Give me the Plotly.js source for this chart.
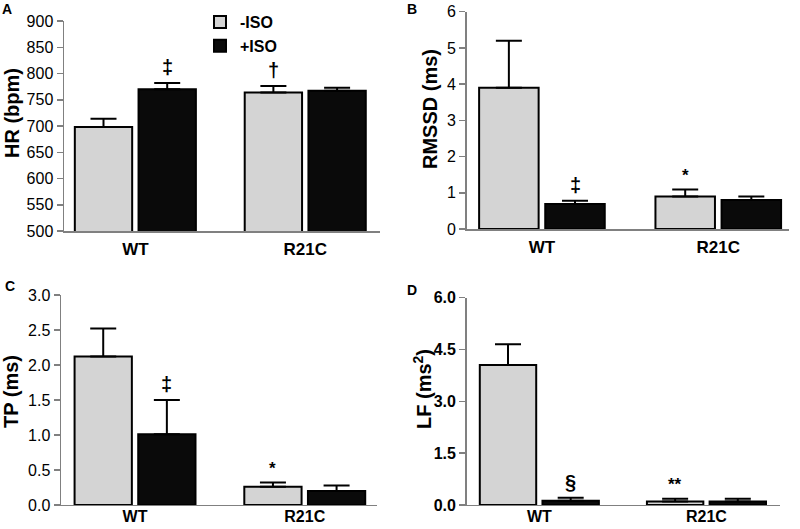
<!DOCTYPE html>
<html>
<head>
<meta charset="utf-8">
<script src="https://cdn.plot.ly/plotly-3.0.1.min.js"></script>
<style>html,body{margin:0;padding:0;background:#fff;}#chart{width:800px;height:529px;}</style>
</head>
<body>
<div id="chart"></div>
<script>
// ---- data ----
var groups = ['WT', 'R21C'];
var seriesNames = ['-ISO', '+ISO'];

var hrMinus = [698, 764];
var hrMinusErr = [16, 12];
var hrPlus = [770, 767];
var hrPlusErr = [12, 6];
var hrSigMinus = ['', '†'];
var hrSigPlus = ['‡', ''];

var rmssdMinus = [3.9, 0.9];
var rmssdMinusErr = [1.3, 0.19];
var rmssdPlus = [0.69, 0.8];
var rmssdPlusErr = [0.09, 0.1];
var rmssdSigMinus = ['', '*'];
var rmssdSigPlus = ['‡', ''];

var tpMinus = [2.12, 0.26];
var tpMinusErr = [0.4, 0.06];
var tpPlus = [1.01, 0.2];
var tpPlusErr = [0.49, 0.08];
var tpSigMinus = ['', '*'];
var tpSigPlus = ['‡', ''];

var lfMinus = [4.05, 0.1];
var lfMinusErr = [0.6, 0.08];
var lfPlus = [0.12, 0.1];
var lfPlusErr = [0.09, 0.08];
var lfSigMinus = ['', '**'];
var lfSigPlus = ['§', ''];

var zeroErr = [0, 0];

// ---- styles ----
var FONT = 'Liberation Sans, Arial, Helvetica, sans-serif';
var GRAY = '#d4d4d4';
var BLACK = '#0a0a0a';
var AXIS = '#808080';

var panels = [
  {id: '', minus: hrMinus, minusErr: hrMinusErr, plus: hrPlus, plusErr: hrPlusErr, sigM: hrSigMinus, sigP: hrSigPlus},
  {id: '2', minus: rmssdMinus, minusErr: rmssdMinusErr, plus: rmssdPlus, plusErr: rmssdPlusErr, sigM: rmssdSigMinus, sigP: rmssdSigPlus},
  {id: '3', minus: tpMinus, minusErr: tpMinusErr, plus: tpPlus, plusErr: tpPlusErr, sigM: tpSigMinus, sigP: tpSigPlus},
  {id: '4', minus: lfMinus, minusErr: lfMinusErr, plus: lfPlus, plusErr: lfPlusErr, sigM: lfSigMinus, sigP: lfSigPlus}
];

var traces = [];
var annotations = [];
function sigFont(t) {
  return {family: FONT, size: t.indexOf('*') >= 0 ? 17 : 20, color: '#000', weight: 'bold'};
}
panels.forEach(function (p, k) {
  var xa = 'x' + p.id, ya = 'y' + p.id;
  traces.push({
    type: 'bar', name: seriesNames[0], x: groups, y: p.minus, xaxis: xa, yaxis: ya,
    legendgroup: 'm', showlegend: k === 0,
    marker: {color: GRAY, line: {color: '#000', width: 2}},
    error_y: {type: 'data', symmetric: false, array: p.minusErr, arrayminus: zeroErr, color: '#000', thickness: 2, width: 13},
    hoverinfo: 'y'
  });
  traces.push({
    type: 'bar', name: seriesNames[1], x: groups, y: p.plus, xaxis: xa, yaxis: ya,
    legendgroup: 'p', showlegend: k === 0,
    marker: {color: BLACK, line: {color: '#000', width: 2}},
    error_y: {type: 'data', symmetric: false, array: p.plusErr, arrayminus: zeroErr, color: '#000', thickness: 2, width: 13},
    hoverinfo: 'y'
  });
  groups.forEach(function (g, i) {
    if (p.sigM[i]) annotations.push({
      xref: xa, yref: ya, x: i - 0.1875, y: p.minus[i] + p.minusErr[i],
      text: p.sigM[i], showarrow: false, yanchor: 'bottom', yshift: 3, font: sigFont(p.sigM[i])
    });
    if (p.sigP[i]) annotations.push({
      xref: xa, yref: ya, x: i + 0.1875, y: p.plus[i] + p.plusErr[i],
      text: p.sigP[i], showarrow: false, yanchor: 'bottom', yshift: 3, font: sigFont(p.sigP[i])
    });
  });
});

// panel letters
[['A', 7, 9], ['B', 412, 9], ['C', 10, 286], ['D', 412, 290]].forEach(function (a) {
  annotations.push({xref: 'paper', yref: 'paper', x: a[1] / 800, y: 1 - a[2] / 529, text: a[0],
    showarrow: false, xanchor: 'center', yanchor: 'middle',
    font: {family: FONT, size: 14, color: '#000', weight: 'bold'}});
});
// axis titles
[['HR (bpm)', 12, 113], ['RMSSD (ms)', 430, 109], ['TP (ms)', 11, 392], ['LF (ms<sup>2</sup>)', 422, 389]].forEach(function (a) {
  annotations.push({xref: 'paper', yref: 'paper', x: a[1] / 800, y: 1 - a[2] / 529, text: a[0],
    showarrow: false, textangle: -90, xanchor: 'center', yanchor: 'middle',
    font: {family: FONT, size: 20, color: '#000', weight: 'bold'}});
});

function xax(domain, range, top) {
  return {domain: domain, range: range, type: 'category', showline: true, linecolor: AXIS, linewidth: 1.5,
    ticks: top ? 'outside' : '', ticklen: top ? 2 : 0, tickcolor: 'rgba(0,0,0,0)',
    ticklabelstandoff: top ? 0 : -4,
    showgrid: false, zeroline: false, fixedrange: true,
    tickfont: {family: FONT, size: top ? 17 : 16, color: '#000', weight: 'bold'}};
}
function yax(domain, range, dtick, fmt, bold) {
  return {domain: domain, range: range, dtick: dtick, tick0: 0, tickformat: fmt, showline: true, linecolor: AXIS, linewidth: 1.5,
    ticks: 'outside', ticklen: 6, tickcolor: AXIS, tickwidth: 1.5, showgrid: false, zeroline: false, fixedrange: true,
    tickfont: {family: FONT, size: 16, color: '#000', weight: bold ? 'bold' : 'normal'}};
}

var layout = {
  width: 800, height: 529,
  margin: {l: 0, r: 0, t: 0, b: 0},
  paper_bgcolor: '#fff', plot_bgcolor: '#fff',
  font: {family: FONT, color: '#000'},
  barmode: 'group', bargap: 0.25, bargroupgap: 0.1,
  showlegend: true,
  legend: {x: 200 / 800, y: 1 - 5 / 529, xanchor: 'left', yanchor: 'top', bgcolor: 'rgba(0,0,0,0)',
    font: {family: FONT, size: 16, color: '#000', weight: 'bold'}, tracegroupgap: 0, itemclick: false},
  xaxis: Object.assign(xax([0.08, 0.475], [-0.42, 1.44], true), {anchor: 'y'}),
  yaxis: Object.assign(yax([0.5633, 0.9603], [500, 900], 50, 'd', false), {anchor: 'x'}),
  xaxis2: Object.assign(xax([0.5833, 0.986], [-0.427, 1.40], true), {anchor: 'y2'}),
  yaxis2: Object.assign(yax([0.5671, 0.9779], [0, 6], 1, 'd', false), {anchor: 'x2'}),
  xaxis3: Object.assign(xax([0.0763, 0.4709], [-0.436, 1.424], false), {anchor: 'y3'}),
  yaxis3: Object.assign(yax([0.0454, 0.4423], [0, 3], 0.5, '.1f', false), {anchor: 'x3'}),
  xaxis4: Object.assign(xax([0.5833, 0.975], [-0.435, 1.44], false), {anchor: 'y4'}),
  yaxis4: Object.assign(yax([0.0454, 0.4372], [0, 6], 1.5, '.1f', true), {anchor: 'x4'}),
  annotations: annotations
};

Plotly.newPlot('chart', traces, layout, {displayModeBar: false, staticPlot: true});
</script>
</body>
</html>
